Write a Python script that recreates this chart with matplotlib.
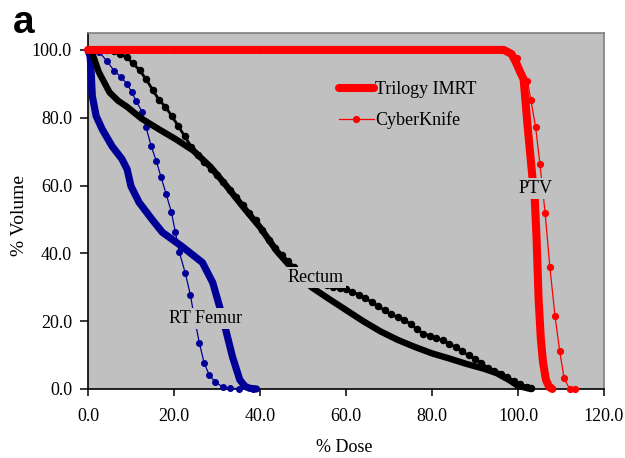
import matplotlib
matplotlib.use("Agg")
import matplotlib.pyplot as plt

plt.rcParams["font.family"] = ["Liberation Serif", "DejaVu Serif"]

# PTV
ptv_tri_dose = [0, 40, 80, 96.7, 98.5, 99.5, 100.5, 101.3, 102.3, 103.4, 103.9, 104.3, 104.8, 105.3, 105.8, 106.5, 107.3, 108.0]
ptv_tri_vol = [100, 100, 100, 100, 98.8, 96.4, 93.5, 91.4, 76.6, 61.8, 55.9, 45.0, 26.3, 15.0, 8.0, 2.7, 0.5, 0.0]
ptv_ck_dose = [0, 20, 40, 60, 80, 96, 99.8, 102.2, 103.0, 104.1, 105.1, 106.3, 107.4, 108.6, 109.7, 110.7, 112.0, 113.3]
ptv_ck_vol = [100, 100, 100, 100, 100, 100, 97.5, 90.8, 85.2, 77.2, 66.3, 52.0, 36.1, 21.6, 11.2, 3.3, 0.0, 0.0]

# Rectum
rec_tri_dose = [0, 1, 2.5, 5, 7, 9, 12.5, 16.5, 20.5, 24.5, 28.5, 32, 36, 40, 44, 48, 52, 56, 60, 64,
                68, 72, 76, 80, 84, 88, 92, 95, 98, 100, 102, 103]
rec_tri_vol = [100, 99, 93.5, 87.5, 85, 83.3, 79.7, 76.6, 73.6, 70.3, 65.5, 60.2, 53.8, 47.7, 40.5, 34.8, 30, 26.6, 23.3, 20,
               17, 14.5, 12.4, 10.5, 9, 7.4, 6, 4.7, 2.6, 0.9, 0.3, 0]
rec_ck_dose = [0, 1.5, 3, 4.5, 6, 7.5, 9, 10.5, 12, 13.5, 15, 16.5, 18, 19.5, 21, 22.5, 24, 25.5, 27, 28.5,
               30, 31.5, 33, 34.5, 36, 37.5, 39, 40.5, 42, 43.5, 45, 46.5, 48, 49.5, 51, 52.5, 54, 55.5, 57, 58.5,
               60, 61.5, 63, 64.5, 66, 67.5, 69, 70.5, 72, 73.5, 75, 76.5, 78, 79.5, 81, 82.5, 84, 85.5, 87, 88.5,
               90, 91.5, 93, 94.5, 96, 97.5, 99, 100.5, 102, 103]
rec_ck_vol = [100, 100, 100, 100, 99.6, 98.8, 97.8, 96, 94, 91.4, 88.3, 85.3, 83.2, 80.5, 77.5, 74.5, 71.5, 69, 67, 65,
              63, 61, 58.8, 56.5, 54.3, 52, 49.8, 47, 44, 41.5, 39.5, 37.8, 36, 34.8, 33.5, 32.5, 31.6, 30.8, 30.2, 29.9,
              29.4, 28.6, 27.8, 26.8, 25.6, 24.4, 23.2, 22, 21.2, 20.3, 19.2, 17.6, 16.3, 15.7, 15, 14.3, 13.4, 12.3, 11.1, 9.9,
              8.9, 7.6, 6.3, 5.2, 4.3, 3.4, 2.4, 1.6, 0.6, 0.2]

# RT femur
fem_tri_dose = [0, 0.5, 0.7, 1, 1.9, 3.3, 5.6, 7.9, 9.1, 10, 11.9, 14.9, 17.3, 21.9, 26.6, 29, 30.6, 32.2,
                33.6, 35.3, 36.5, 37.6, 39.2]
fem_tri_vol = [100, 98, 94.4, 86.4, 80.5, 76.6, 71.6, 67.8, 64.8, 59.8, 55, 50, 46.2, 42, 37.3, 31.4, 24.3, 16.6,
               9.5, 2.7, 0.8, 0.2, 0]
fem_ck_dose = [0, 1.2, 2.6, 4.4, 6.1, 7.7, 9.1, 10.2, 11.2, 12.6, 13.5, 14.7, 15.9, 17, 18.2, 19.4, 20.3, 21.2,
               22.6, 23.8, 24.8, 25.9, 27, 28.2, 29.6, 31.3, 33, 35, 38.3]
fem_ck_vol = [100, 100, 99.4, 96.7, 93.8, 92, 89.9, 87.5, 84.9, 81.7, 77.2, 71.6, 67.2, 62.4, 57.4, 52.1, 46.4, 40.5,
              34.3, 27.8, 20.5, 13.6, 7.7, 4.1, 2.1, 0.6, 0.2, 0.1, 0]

RED = "#ff0000"
NAVY = "#000096"
BG = "#c0c0c0"
FS = 13

fig = plt.figure(figsize=(6.25, 4.58), dpi=100)
ax = fig.add_axes([0.1408, 0.1507, 0.8256, 0.7773])
ax.set_facecolor(BG)

ax.plot(fem_tri_dose, fem_tri_vol, color=NAVY, lw=5.2, solid_capstyle="round", clip_on=False, zorder=3)
ax.plot(fem_ck_dose, fem_ck_vol, color=NAVY, lw=0.9, marker="o", ms=4, clip_on=False, zorder=3)
ax.plot(rec_tri_dose, rec_tri_vol, color="black", lw=4.6, solid_capstyle="round", clip_on=False, zorder=3)
ax.plot(rec_ck_dose, rec_ck_vol, color="black", lw=2.0, marker="o", ms=4.4, clip_on=False, zorder=3)
ax.plot(ptv_tri_dose, ptv_tri_vol, color=RED, lw=5.8, solid_capstyle="round", clip_on=False, zorder=4,
        label="Trilogy IMRT")
ax.plot(ptv_ck_dose, ptv_ck_vol, color=RED, lw=0.9, marker="o", ms=4.2, clip_on=False, zorder=3,
        label="CyberKnife")

# structure labels sit on grey boxes that hide the curves behind them
box = dict(facecolor=BG, edgecolor="none", pad=1.5)
ax.text(104.1, 59.2, "PTV", fontsize=FS, ha="center", va="center", bbox=box, zorder=5)
ax.text(53.0, 32.8, "Rectum", fontsize=FS, ha="center", va="center", bbox=box, zorder=5)
ax.text(27.4, 20.7, "RT Femur", fontsize=FS, ha="center", va="center", bbox=box, zorder=5)

ax.legend(loc="upper left", bbox_to_anchor=(0.486, 0.865), frameon=False, fontsize=FS,
          handlelength=1.95, handletextpad=0.05, labelspacing=0.73, borderpad=0, borderaxespad=0)

ax.set_xlim(0, 120)
ax.set_ylim(0, 105)
ax.set_xticks([0, 20, 40, 60, 80, 100, 120])
ax.set_yticks([0, 20, 40, 60, 80, 100])
ax.xaxis.set_major_formatter(matplotlib.ticker.FormatStrFormatter("%.1f"))
ax.yaxis.set_major_formatter(matplotlib.ticker.FormatStrFormatter("%.1f"))
ax.tick_params(axis="x", direction="out", length=5, width=1.1, labelsize=FS, pad=9)
ax.tick_params(axis="y", direction="out", length=5.5, width=1.1, labelsize=FS, pad=6)

for side in ("left", "bottom"):
    ax.spines[side].set_color("black")
    ax.spines[side].set_linewidth(1.2)
for side in ("top", "right"):
    ax.spines[side].set_color("#7f7f7f")
    ax.spines[side].set_linewidth(1.2)

fig.text(20 / 625, 1 - 216 / 458, "% Volume", rotation=90, ha="center", va="center", fontsize=14)
fig.text(344 / 625, 1 - 448 / 458, "% Dose", ha="center", va="center", fontsize=FS)
fig.text(13 / 625, 1 - 33 / 458, "a", ha="left", va="baseline", fontsize=28, fontweight="bold",
         family=["Liberation Sans", "DejaVu Sans"])

fig.savefig("out.png", dpi=100)
